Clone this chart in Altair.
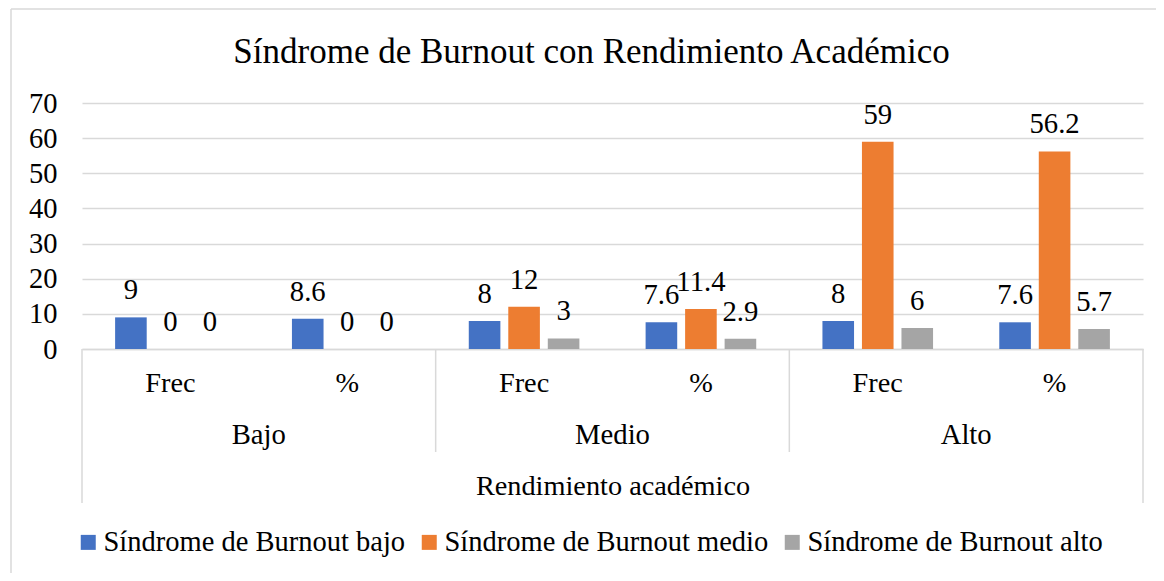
import altair as alt
import pandas as pd

# ---- data ----
groups = ["Bajo", "Bajo", "Medio", "Medio", "Alto", "Alto"]
subcats = ["Frec", "%", "Frec", "%", "Frec", "%"]
group_names = ["Bajo", "Medio", "Alto"]
series = ["Síndrome de Burnout bajo", "Síndrome de Burnout medio", "Síndrome de Burnout alto"]
burnout_bajo = [9, 8.6, 8, 7.6, 8, 7.6]
burnout_medio = [0, 0, 12, 11.4, 59, 56.2]
burnout_alto = [0, 0, 3, 2.9, 6, 5.7]
y_ticks = [0, 10, 20, 30, 40, 50, 60, 70]
colors = ["#4472C4", "#ED7D31", "#A5A5A5"]

cat_order = [f"{g} {c}" for g, c in zip(groups, subcats)]
rows = []
for s, vals in zip(series, [burnout_bajo, burnout_medio, burnout_alto]):
    for g, c, v in zip(groups, subcats, vals):
        rows.append({"cat": f"{g} {c}", "serie": s, "valor": v, "label": f"{v:g}"})
df = pd.DataFrame(rows)
dfg = pd.DataFrame({"grupo": group_names})

W, H = 1061, 246
FONT = "Liberation Serif"
GRID = "#d9d9d9"

x_enc = alt.X(
    "cat:N", sort=cat_order,
    scale=alt.Scale(paddingInner=0, paddingOuter=0),
    axis=alt.Axis(
        title="Rendimiento académico", labelExpr="split(datum.label, ' ')[1]",
        labelAngle=0, ticks=False, tickSize=0, labelPadding=34, labelBaseline="middle",
        domain=True, domainColor=GRID, domainWidth=1.5, labelFontSize=28.3,
        labelFont=FONT, titleFont=FONT,
        titleFontSize=28.3, titleFontWeight="normal", titlePadding=76,
    ),
)
xoff_enc = alt.XOffset("serie:N", sort=series,
                       scale=alt.Scale(paddingInner=0.2, paddingOuter=0.838))
y_enc = alt.Y(
    "valor:Q", scale=alt.Scale(domain=[0, 70]),
    axis=alt.Axis(values=y_ticks, title=None, domain=False, ticks=False, tickSize=0,
                  labelPadding=25, grid=True, gridColor=GRID, gridWidth=1.5,
                  labelFontSize=28.5, labelFont=FONT),
)

bars = alt.Chart(df).mark_bar().encode(
    x=x_enc, xOffset=xoff_enc, y=y_enc,
    color=alt.Color("serie:N", sort=series,
                    scale=alt.Scale(domain=series, range=colors),
                    legend=alt.Legend(title=None, orient="none", direction="horizontal",
                                      legendX=-8, legendY=425, symbolType="square",
                                      symbolSize=225, symbolStrokeWidth=0, padding=0,
                                      labelFontSize=28.5, labelFont=FONT, labelOffset=1,
                                      columnPadding=9, labelLimit=0)),
)
labels = alt.Chart(df).mark_text(dy=-27, fontSize=28.7, font=FONT, baseline="middle",
                                 color="black").encode(
    x=x_enc, xOffset=xoff_enc, y=y_enc, text="label:N",
)
main = alt.layer(bars, labels)

gscale = alt.Scale(domain=group_names, paddingInner=0, paddingOuter=0)
gtext = alt.Chart(dfg).mark_text(fontSize=28.7, font=FONT, baseline="middle",
                                 color="black").encode(
    x=alt.X("grupo:N", scale=gscale, axis=None),
    y=alt.value(H + 86), text="grupo:N",
)
sep_short = alt.Chart(dfg).transform_filter(
    alt.FieldOneOfPredicate(field="grupo", oneOf=["Medio", "Alto"])
).mark_rule(color=GRID, strokeWidth=1.5).encode(
    x=alt.X("grupo:N", scale=gscale, axis=None, bandPosition=0),
    y=alt.value(H), y2=alt.value(H + 103),
)
sep_left = alt.Chart(dfg).transform_filter(
    alt.FieldEqualPredicate(field="grupo", equal="Bajo")
).mark_rule(color=GRID, strokeWidth=1.5).encode(
    x=alt.X("grupo:N", scale=gscale, axis=None, bandPosition=0),
    y=alt.value(H), y2=alt.value(H + 154),
)
sep_right = alt.Chart(dfg).transform_filter(
    alt.FieldEqualPredicate(field="grupo", equal="Alto")
).mark_rule(color=GRID, strokeWidth=1.5).encode(
    x=alt.X("grupo:N", scale=gscale, axis=None, bandPosition=1),
    y=alt.value(H), y2=alt.value(H + 154),
)
grp = alt.layer(gtext, sep_short, sep_left, sep_right)

frame_df = pd.DataFrame({"k": [0]})
frame_top = alt.Chart(frame_df).mark_rule(color=GRID, strokeWidth=1.5).encode(
    x=alt.value(-71), x2=alt.value(2000), y=alt.value(-94))
frame_left = alt.Chart(frame_df).mark_rule(color=GRID, strokeWidth=1.5).encode(
    x=alt.value(-71), y=alt.value(-94), y2=alt.value(1000))

chart = alt.layer(main, grp, frame_top, frame_left).resolve_scale(x="independent").properties(
    width=W, height=H,
    title=alt.Title("Síndrome de Burnout con Rendimiento Académico", fontSize=35,
                    font=FONT, fontWeight="normal", anchor="middle", dx=-21, offset=-62,
                    color="black"),
    autosize=alt.AutoSizeParams(type="none"),
    padding={"left": 74, "top": 95, "right": 13, "bottom": 224},
).configure_axis(labelColor="black", titleColor="black").configure_legend(
    labelColor="black").configure_view(strokeWidth=0)

chart.save("out.html", embed_options={"renderer": "svg", "actions": False})
